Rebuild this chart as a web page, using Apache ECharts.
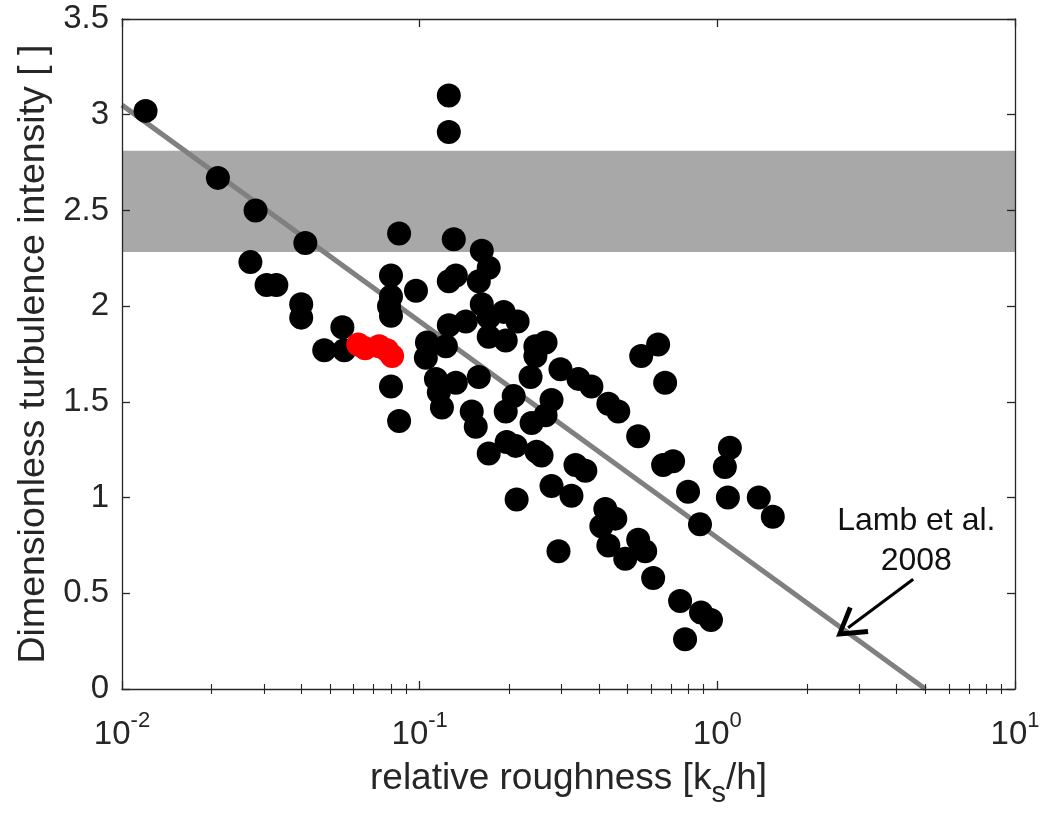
<!DOCTYPE html>
<html>
<head>
<meta charset="utf-8">
<script src="https://cdn.jsdelivr.net/npm/echarts@6/dist/echarts.min.js"></script>
<style>
  html, body { margin: 0; padding: 0; background: #fff; }
  #main { width: 1047px; height: 813px; }
</style>
</head>
<body>
<div id="main"></div>
<script>
  // measured points (relative roughness, turbulence intensity)
  const blackX = [0.0120, 0.0210, 0.0281, 0.0413, 0.0270, 0.0306, 0.0330, 0.0400, 0.0400, 0.0550,
    0.0478, 0.0558, 0.0801, 0.0801, 0.0789, 0.0801, 0.0853, 0.0801, 0.0853, 0.0972,
    0.1253, 0.1253, 0.1253, 0.1253, 0.1302, 0.1617, 0.1617, 0.1706, 0.1706, 0.1706,
    0.1706, 0.1323, 0.1580, 0.1580, 0.1429, 0.1915, 0.2133, 0.1946, 0.1946, 0.1058,
    0.1049, 0.1225, 0.2448, 0.2448, 0.2648, 0.2972, 0.3415, 0.3775, 0.1134, 0.1323,
    0.1160, 0.1188, 0.1496, 0.1543, 0.2069, 0.2358, 0.2377, 0.2773, 0.2773, 0.2648,
    0.1960, 0.2101, 0.2470, 0.2567, 0.2117, 0.4304, 0.4304, 0.4647, 0.5421, 0.5421,
    0.3338, 0.3603, 0.3236, 0.6326, 0.5549, 0.6678, 0.6574, 0.7101, 0.7973, 0.8745,
    1.102, 1.060, 1.085, 0.4205, 0.4542, 0.4077, 0.5723, 0.4905, 0.2927, 0.6087,
    0.7497, 0.8813, 0.9519, 0.7790, 1.378, 1.536]
  const blackY = [3.02, 2.67, 2.50, 2.33, 2.23, 2.11, 2.11, 2.01, 1.94, 1.89,
    1.77, 1.77, 2.16, 2.05, 2.00, 1.95, 2.38, 1.58, 1.40, 2.08,
    3.10, 2.91, 2.13, 1.90, 2.35, 2.29, 2.01, 2.20, 1.94, 1.84,
    1.23, 2.16, 2.13, 1.63, 1.92, 1.97, 1.92, 1.82, 1.45, 1.81,
    1.73, 1.79, 1.79, 1.74, 1.81, 1.67, 1.62, 1.58, 1.62, 1.60,
    1.55, 1.47, 1.45, 1.37, 1.53, 1.63, 1.39, 1.51, 1.06, 1.43,
    1.29, 1.27, 1.24, 1.22, 0.99, 1.49, 0.75, 1.45, 1.32, 0.78,
    1.17, 1.14, 1.01, 1.80, 1.74, 1.60, 1.17, 1.19, 1.03, 0.86,
    1.26, 1.16, 1.00, 0.94, 0.89, 0.85, 0.72, 0.68, 0.72, 0.58,
    0.46, 0.40, 0.36, 0.26, 1.00, 0.90]
  const redX = [0.0622, 0.0656, 0.0731, 0.0777, 0.0808]
  const redY = [1.80, 1.78, 1.79, 1.77, 1.74]

  // Lamb et al. 2008 relation, end points
  const lambLine = [[0.01, 3.05], [5.0, 0]]
  const bandRange = [2.283, 2.812] // grey band
  const yTicks = [0, 3.5, 0.5] // min, max, step
  const xDecades = [0.01, 10]
  const minorSteps = [2, 3, 4, 5, 6, 7, 8, 9]

  const FONT = '"Liberation Sans", Arial, Helvetica, sans-serif'
  const INK = '#262626'

  const zip = (xs, ys) => xs.map((x, i) => [x, ys[i]])

  // minor tick positions in log10 space for the helper axes
  let minorLog = []
  for (let d = Math.log10(xDecades[0]); d < Math.log10(xDecades[1]); d++) {
    minorSteps.forEach(m => minorLog.push(d + Math.log10(m)))
  }

  let chart = echarts.init(document.getElementById('main'))

  const majorX = (pos, labels) => ({
    type: 'log', logBase: 10, min: xDecades[0], max: xDecades[1], position: pos, z: 10,
    axisLine: { show: true, onZero: false, lineStyle: { color: INK, width: 1.3 } },
    axisTick: { show: true, inside: true, length: 8, lineStyle: { color: INK, width: 1.3 } },
    splitLine: { show: false },
    axisLabel: labels ? {
      show: true, margin: 29, fontSize: 33, fontFamily: FONT, color: INK,
      formatter: v => '{b|10}{s|' + Math.round(Math.log10(v)) + '}',
      rich: {
        b: { fontSize: 33, lineHeight: 33, fontFamily: FONT, color: INK, verticalAlign: 'bottom' },
        s: { fontSize: 22, lineHeight: 22, fontFamily: FONT, color: INK, verticalAlign: 'bottom', padding: [0, 0, 19, 0] }
      }
    } : { show: false }
  })
  const minorX = pos => ({
    type: 'value', min: Math.log10(xDecades[0]), max: Math.log10(xDecades[1]), position: pos, z: 10,
    axisLine: { show: false },
    axisTick: { show: true, inside: true, length: 5, customValues: minorLog, lineStyle: { color: INK, width: 1.1 } },
    axisLabel: { show: false },
    splitLine: { show: false }
  })

  let xMain = majorX('bottom', true)
  xMain.name = '{n|relative roughness [k}{sub|s}{n|/h]}'
  xMain.nameLocation = 'middle'
  xMain.nameGap = 71
  xMain.nameTextStyle = {
    rich: {
      n: { fontSize: 37, lineHeight: 38, fontFamily: FONT, color: INK, verticalAlign: 'top' },
      sub: { fontSize: 29, lineHeight: 29, fontFamily: FONT, color: INK, verticalAlign: 'top', padding: [19, 0, 0, 0] }
    }
  }

  let option = {
    backgroundColor: '#fff',
    animation: false,
    grid: { left: 122, right: 32, top: 19, bottom: 121, containLabel: false },
    xAxis: [xMain, majorX('top', false), minorX('bottom'), minorX('top')],
    yAxis: [
      {
        type: 'value', min: yTicks[0], max: yTicks[1], interval: yTicks[2], position: 'left', z: 10,
        name: 'Dimensionless turbulence intensity [ ]',
        nameLocation: 'middle', nameGap: 68,
        nameTextStyle: { fontSize: 37.5, fontFamily: FONT, color: INK },
        axisLine: { show: true, onZero: false, lineStyle: { color: INK, width: 1.3 } },
        axisTick: { show: true, inside: true, length: 8, lineStyle: { color: INK, width: 1.3 } },
        axisLabel: { fontSize: 33, fontFamily: FONT, color: INK, margin: 13 },
        splitLine: { show: false }
      },
      {
        type: 'value', min: yTicks[0], max: yTicks[1], interval: yTicks[2], position: 'right', z: 10,
        axisLine: { show: true, onZero: false, lineStyle: { color: INK, width: 1.3 } },
        axisTick: { show: true, inside: true, length: 8, lineStyle: { color: INK, width: 1.3 } },
        axisLabel: { show: false },
        splitLine: { show: false }
      }
    ],
    series: [
      {
        name: 'band', type: 'line', data: [], z: 1, silent: true,
        markArea: {
          silent: true,
          itemStyle: { color: '#a8a8a8', opacity: 1 },
          data: [[{ yAxis: bandRange[0] }, { yAxis: bandRange[1] }]]
        }
      },
      {
        name: 'Lamb et al. 2008', type: 'line', data: lambLine, z: 2, silent: true,
        symbol: 'none', lineStyle: { color: '#808080', width: 5 },
        markLine: {
          silent: true,
          symbol: ['none', 'path://M10,0 L20,17 L17.5,18.5 L10,5.5 L2.5,18.5 L0,17 Z'],
          symbolSize: [34, 30],
          lineStyle: { color: '#000', width: 3, type: 'solid' },
          label: { show: false },
          data: [[{ coord: [4.55, 0.573] }, { coord: [2.75, 0.32] }]]
        },
        markPoint: {
          silent: true,
          symbol: 'circle', symbolSize: 0,
          label: {
            show: true, position: 'inside', formatter: 'Lamb et al.\n2008',
            fontSize: 32, lineHeight: 40, fontFamily: FONT, color: '#111', align: 'center'
          },
          data: [{ coord: [4.66, 0.77] }]
        }
      },
      {
        name: 'data', type: 'scatter', data: zip(blackX, blackY), z: 3,
        symbol: 'circle', symbolSize: 24, itemStyle: { color: '#000', opacity: 1 }
      },
      {
        name: 'red', type: 'scatter', data: zip(redX, redY), z: 4,
        symbol: 'circle', symbolSize: 24, itemStyle: { color: '#ff0000', opacity: 1 }
      }
    ]
  }
  chart.setOption(option)
</script>
</body>
</html>
